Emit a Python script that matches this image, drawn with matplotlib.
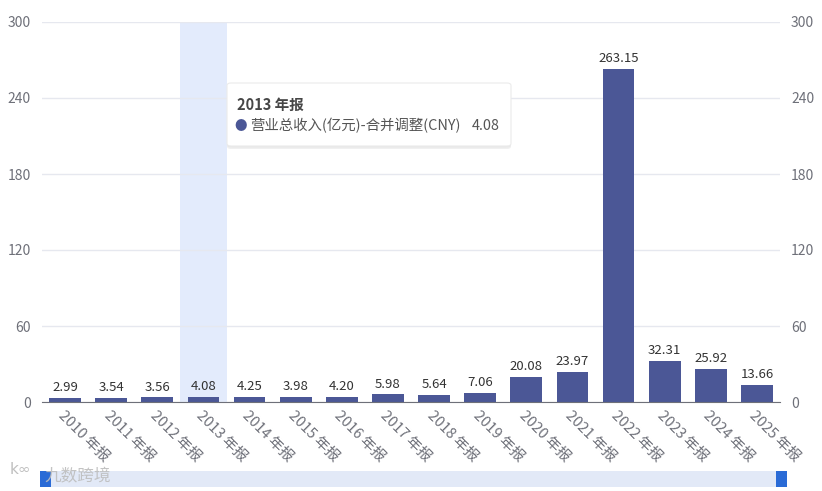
import matplotlib.pyplot as plt
from matplotlib.patches import FancyBboxPatch, Rectangle

plt.rcParams['font.family'] = ['Noto Sans CJK SC', 'DejaVu Sans']

years = [str(y) for y in range(2010, 2026)]
labels = [y + ' 年报' for y in years]
revenue = [2.99, 3.54, 3.56, 4.08, 4.25, 3.98, 4.20, 5.98, 5.64, 7.06,
           20.08, 23.97, 263.15, 32.31, 25.92, 13.66]
yticks = [0, 60, 120, 180, 240, 300]
series_name = '营业总收入(亿元)-合并调整(CNY)'
hover_idx = 3

bar_color = '#4b5796'
grid_color = '#e6e8ef'
text_color = '#6e7079'

fig = plt.figure(figsize=(8.22, 4.91), dpi=100)
ax = fig.add_axes([42 / 822, 89 / 491, 738 / 822, 380 / 491])

x = list(range(len(labels)))
# hover highlight band
ax.axvspan(hover_idx - 0.5, hover_idx + 0.5, color='#e3ebfc', zorder=0, lw=0)
ax.bar(x, revenue, width=0.69, color=bar_color, zorder=2)
for xi, v in zip(x, revenue):
    ax.text(xi, v + 3, f'{v:.2f}', ha='center', va='bottom', fontsize=9.5, color='#333333')

ax.set_xlim(-0.5, len(labels) - 0.5)
ax.set_ylim(0, 300)
ax.set_yticks(yticks)
ax.yaxis.grid(True, color=grid_color, lw=1, zorder=0)
ax.set_axisbelow(True)
for s in ['top', 'left', 'right']:
    ax.spines[s].set_visible(False)
ax.spines['bottom'].set_color(text_color)
ax.tick_params(axis='y', length=0, labelsize=10, labelcolor=text_color, pad=8)
ax.tick_params(axis='x', length=0, labelsize=10.5, labelcolor=text_color, pad=5)
ax.set_xticks(x)
ax.set_xticklabels(labels, rotation=-45, ha='left', va='top', rotation_mode='anchor')

ax2 = ax.twinx()
ax2.set_ylim(0, 300)
ax2.set_yticks(yticks)
for s in ['top', 'left', 'right', 'bottom']:
    ax2.spines[s].set_visible(False)
ax2.tick_params(axis='y', length=0, labelsize=10, labelcolor=text_color, pad=8)

# tooltip (with a faint shadow)
for off, col in [(3, '#f0f0f0'), (1.5, '#e8e8e8')]:
    fig.patches.append(FancyBboxPatch((227 / 822, 1 - (146 + off) / 491), 284 / 822, 63 / 491,
                                      boxstyle='round,pad=0,rounding_size=0.005',
                                      transform=fig.transFigure, facecolor=col,
                                      edgecolor='none', zorder=9))
tip = FancyBboxPatch((227 / 822, 1 - 146 / 491), 284 / 822, 63 / 491,
                     boxstyle='round,pad=0,rounding_size=0.005',
                     transform=fig.transFigure, facecolor='white',
                     edgecolor='#ebebeb', lw=0.8, zorder=10)
fig.patches.append(tip)
fig.text(237 / 822, 1 - 105 / 491, f'{years[hover_idx]} 年报', fontsize=10.5,
         fontweight='bold', color='#464646', va='center', zorder=11)
fig.text(241 / 822, 1 - 126 / 491, '●', fontsize=9, color=bar_color,
         va='center', ha='center', zorder=11)
fig.text(250 / 822, 1 - 126 / 491, series_name, fontsize=10.4, color='#555555',
         va='center', zorder=11)
fig.text(500 / 822, 1 - 126 / 491, f'{revenue[hover_idx]:.2f}', fontsize=10.4,
         color='#555555', va='center', ha='right', zorder=11)

# data zoom slider
fig.patches.append(Rectangle((42 / 822, 1 - 487 / 491), 738 / 822, 16 / 491,
                             transform=fig.transFigure, facecolor='#e2e9f7',
                             edgecolor='none'))
for hx in [40, 776]:
    fig.patches.append(Rectangle((hx / 822, 1 - 487 / 491), 11 / 822, 16 / 491,
                                 transform=fig.transFigure, facecolor='#2a6bd6',
                                 edgecolor='none'))
fig.text(10 / 822, 1 - 470 / 491, 'k∞', fontsize=11, color='#c0c0c0',
         va='center', family=['DejaVu Sans'])
fig.text(44 / 822, 1 - 477 / 491, '九数跨境', fontsize=12, color='#bdbdbd',
         va='center', alpha=0.9)

fig.savefig('out.png', dpi=100)
